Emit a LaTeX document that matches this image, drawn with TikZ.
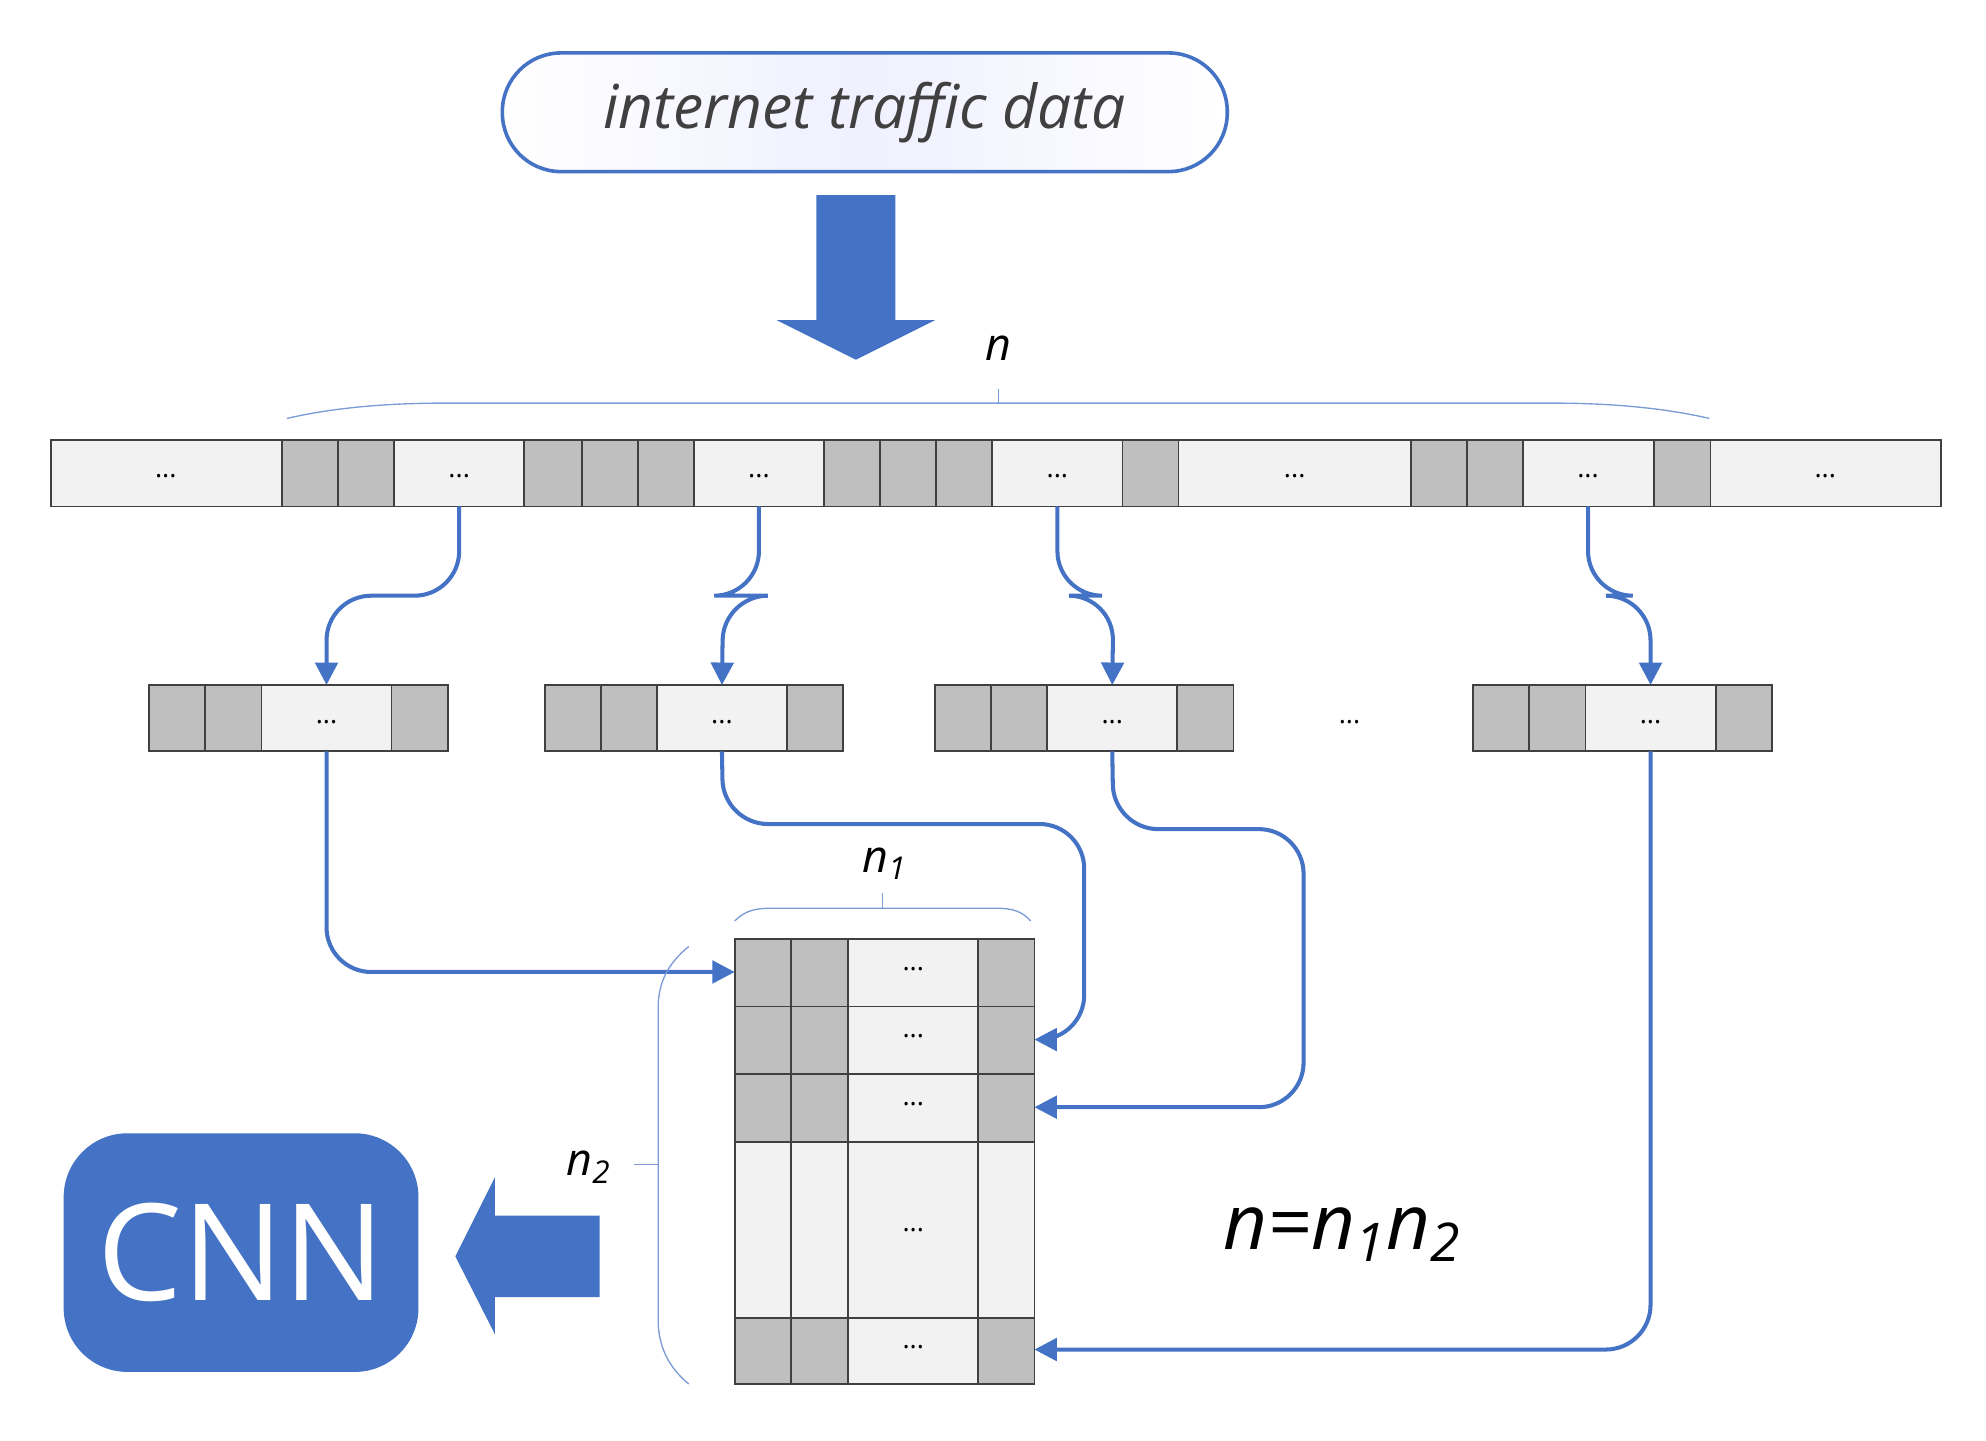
\documentclass[tikz,border=0pt]{standalone}
\usepackage{fontspec}
\setmainfont{Open Sans}
\usetikzlibrary{arrows.meta,decorations.pathreplacing,shadings}
\definecolor{bl}{HTML}{4472C4}
\definecolor{gc}{HTML}{BFBFBF}
\definecolor{lc}{HTML}{F2F2F2}
\definecolor{bord}{HTML}{404040}
\tikzset{
 g/.style={fill=gc,draw=bord,line width=0.4pt},
 l/.style={fill=lc,draw=bord,line width=0.4pt},
 dots/.style={font=\fontsize{6}{7}\selectfont},
 con/.style={draw=bl,line width=0.9pt,rounded corners=0.35cm,-{Triangle[length=5pt,width=5pt]}},
 brc/.style={draw=bl!70,line width=0.3pt},
 lab/.style={font=\itshape\fontsize{10}{12}\selectfont}
}
\begin{document}
\begin{tikzpicture}[x=0.01cm,y=-0.01cm]
\useasboundingbox (0,0) rectangle (1557,1129);
% top pill
\node[draw=bl,line width=0.8pt,rounded corners=0.46cm,left color=white,right color=white,middle color=blue!6,minimum width=5.68cm,minimum height=0.93cm,text=black!75,font=\itshape\fontsize{13.5}{16}\selectfont] (src) at (678,88) {internet traffic data};
% big down arrow
\fill[bl] (640,153)--(702,153)--(702,251)--(733,251)--(671,282)--(609,251)--(640,251)--cycle;
% top bar
\def\cell#1#2#3#4#5{\path[#1] (#2,#4) rectangle (#3,#5);}
\foreach \a/\b/\s in {40/221/l,221/265/g,265/309/g,309/411/l,411/456/g,456/500/g,500/544/g,544/646/l,646/690/g,690/734/g,734/778/g,778/880/l,880/924/g,924/1106/l,1106/1150/g,1150/1194/g,1194/1297/l,1297/1341/g,1341/1522/l}
  {\path[\s] (\a,345) rectangle (\b,397);}
\foreach \x in {130,360,595,829,1015,1245,1431}{\node[dots] at (\x,373) {...};}
\coordinate (t1) at (360,397);\coordinate (t2) at (595,397);\coordinate (t3) at (829,397);\coordinate (t4) at (1245,397);
% brace n
\draw[brc] (225,328) .. controls (260,320) and (300,316) .. (350,316) -- (1215,316) .. controls (1265,316) and (1305,320) .. (1340,328);
\draw[brc] (783,316)--(783,305);
\node[lab] at (783,273) {n};
% row 2
\foreach \o/\i in {117/1,427/2,733/3,1155/4}{
  \path[g] (\o,537) rectangle ++(44,52);
  \path[g] (\o+44,537) rectangle ++(44,52);
  \path[l] (\o+88,537) rectangle ++(102,52);
  \path[g] (\o+190,537) rectangle ++(44,52);
  \node[dots] at (\o+139,566) {...};
  \coordinate (m\i) at (\o+139,537);
  \coordinate (b\i) at (\o+139,589);
}
\node[dots] at (1058,566) {...};
\draw[con] (t1)--(360,467)--(256,467)--(m1);
\draw[con] (t2)--(595,467)--(567,467)--(m2);
\draw[con] (t3)--(829,467)--(873,467)--(m3);
\draw[con] (t4)--(1245,467)--(1294,467)--(m4);
% matrix
\foreach \ya/\yb/\i in {736/789/1,789/842/2,842/895/3,1033/1085/5}{
  \path[g] (576,\ya) rectangle (620,\yb);
  \path[g] (620,\ya) rectangle (665,\yb);
  \path[l] (665,\ya) rectangle (767,\yb);
  \path[g] (767,\ya) rectangle (811,\yb);
  \node[dots] at (716,\ya/2+\yb/2-3) {...};
}
\path[l] (576,895) rectangle (620,1033);
\path[l] (620,895) rectangle (665,1033);
\path[l] (665,895) rectangle (767,1033);
\path[l] (767,895) rectangle (811,1033);
\node[dots] at (716,964) {...};
\coordinate (r1) at (576,762);\coordinate (r2) at (811,815);\coordinate (r3) at (811,868);\coordinate (r5) at (811,1058);
\draw[con] (b1)--(256,762)--(r1);
\draw[con] (b2)--(567,646)--(850,646)--(850,815)--(r2);
\draw[con] (b3)--(873,650)--(1022,650)--(1022,868)--(r3);
\draw[con] (b4)--(1294,1058)--(r5);
% brace n1
\draw[brc] (576,722) .. controls (584,714) and (592,712) .. (605,712) -- (780,712) .. controls (793,712) and (801,714) .. (808,722);
\draw[brc] (692,712)--(692,700);
\node[lab] at (694,677) {n\textsubscript{1}};
% brace n2
\draw[brc] (540,742) .. controls (524,755) and (516,770) .. (516,790) -- (516,1035) .. controls (516,1055) and (524,1072) .. (540,1085);
\draw[brc] (516,913)--(497,913);
\node[lab] at (462,915) {n\textsubscript{2}};
% formula
\node[font=\itshape\fontsize{17}{20}\selectfont] at (1053,968) {n=n\textsubscript{1}n\textsubscript{2}};
% CNN
\node[fill=bl,rounded corners=0.5cm,minimum width=2.78cm,minimum height=1.87cm,text=white,font=\fontsize{30}{34}\selectfont] (cnn) at (189,982) {CNN};
\fill[bl] (470,953)--(388,953)--(388,923)--(357,985)--(388,1046)--(388,1017)--(470,1017)--cycle;
\end{tikzpicture}
\end{document}
